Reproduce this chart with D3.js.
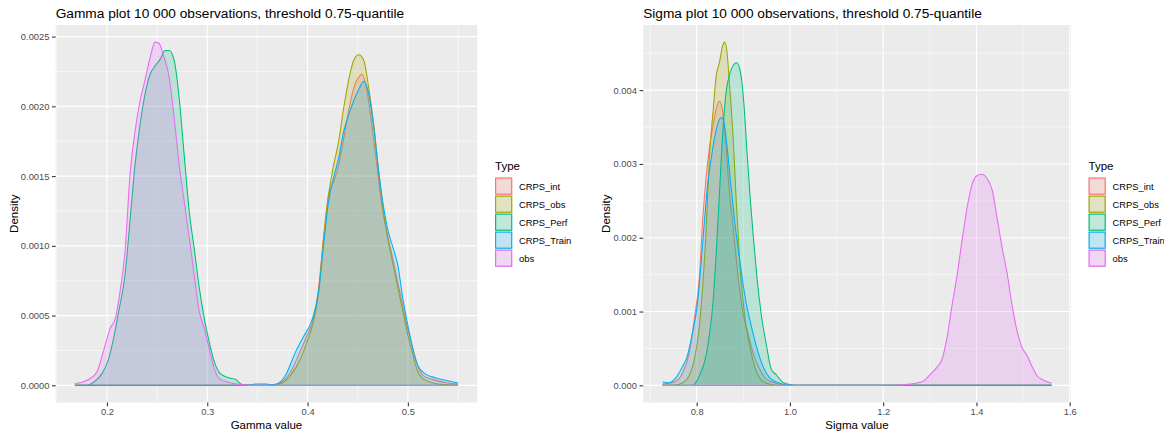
<!DOCTYPE html>
<html>
<head>
<meta charset="utf-8">
<script src="https://cdn.jsdelivr.net/npm/d3@7"></script>
<style>
  html, body { margin: 0; padding: 0; background: #ffffff; }
  svg { display: block; }
  text { font-family: "Liberation Sans", Arial, sans-serif; }
</style>
</head>
<body>
<svg id="chart" width="1164" height="434"></svg>
<script>
// ---------------- DATA ----------------
const types = ["CRPS_int", "CRPS_obs", "CRPS_Perf", "CRPS_Train", "obs"];
const typeColors = ["#F8766D", "#A3A500", "#00BF7D", "#00B0F6", "#E76BF3"];

const gammaTitle = "Gamma plot 10 000 observations, threshold 0.75-quantile";
const sigmaTitle = "Sigma plot 10 000 observations, threshold 0.75-quantile";
const gammaXLabel = "Gamma value";
const sigmaXLabel = "Sigma value";
const yLabel = "Density";
const legendTitle = "Type";

const gammaXTicks = [0.2, 0.3, 0.4, 0.5];
const gammaYTicks = [0, 0.0005, 0.001, 0.0015, 0.002, 0.0025];
const sigmaXTicks = [0.8, 1.0, 1.2, 1.4, 1.6];
const sigmaYTicks = [0, 0.001, 0.002, 0.003, 0.004];

// Gamma densities: [x, density]
const gamma_CRPS_int = [[0.168,0],[0.35,0],[0.362,0.000002],[0.37,0.00001],[0.383,0.000096],[0.393,0.00025],[0.399,0.00035],[0.406,0.00048],[0.411,0.0007],[0.416,0.00106],[0.421,0.00137],[0.426,0.00146],[0.431,0.00158],[0.436,0.00177],[0.441,0.00197],[0.446,0.00213],[0.451,0.00221],[0.454,0.00223],[0.459,0.00212],[0.464,0.00187],[0.469,0.00158],[0.474,0.00129],[0.479,0.0011],[0.484,0.00094],[0.489,0.00077],[0.494,0.0006],[0.499,0.00043],[0.504,0.00029],[0.509,0.00016],[0.515,0.000072],[0.525,0.000041],[0.538,0.000019],[0.55,0.00001]];
const gamma_CRPS_obs = [[0.168,0],[0.36,0],[0.373,0.000012],[0.383,0.000072],[0.393,0.00019],[0.3993,0.00031],[0.406,0.00046],[0.411,0.00067],[0.416,0.00106],[0.421,0.00137],[0.426,0.00158],[0.431,0.00175],[0.436,0.00199],[0.441,0.00219],[0.446,0.00233],[0.451,0.00237],[0.456,0.00233],[0.461,0.00213],[0.466,0.00187],[0.4705,0.00156],[0.4755,0.00125],[0.4805,0.00103],[0.4855,0.00086],[0.49,0.0007],[0.495,0.00053],[0.5,0.00036],[0.505,0.00022],[0.51,0.000096],[0.515,0.000048],[0.522,0.000024],[0.532,0.000007],[0.55,0]];
const gamma_CRPS_Perf = [[0.168,0],[0.18,0],[0.187,0.000024],[0.195,0.000084],[0.2017,0.00019],[0.2067,0.00034],[0.2117,0.00053],[0.218,0.00079],[0.223,0.00118],[0.228,0.00158],[0.233,0.00187],[0.238,0.00209],[0.243,0.00223],[0.248,0.00229],[0.2533,0.00234],[0.258,0.0024],[0.262,0.0024],[0.267,0.00233],[0.272,0.00206],[0.277,0.00165],[0.282,0.00125],[0.287,0.00098],[0.292,0.0007],[0.297,0.00048],[0.302,0.00031],[0.307,0.00017],[0.313,0.000084],[0.322,0.000053],[0.328,0.000043],[0.335,0.000005],[0.345,0],[0.55,0]];
const gamma_CRPS_Train = [[0.168,0],[0.34,0],[0.348,0.00001],[0.358,0.00001],[0.363,0.000005],[0.37,0.000012],[0.378,0.000072],[0.388,0.00024],[0.396,0.00035],[0.404,0.00046],[0.411,0.00067],[0.416,0.00101],[0.421,0.00132],[0.426,0.00149],[0.431,0.00163],[0.436,0.00182],[0.441,0.00194],[0.446,0.00204],[0.451,0.00212],[0.456,0.00218],[0.461,0.00209],[0.466,0.00185],[0.4705,0.00156],[0.4755,0.00129],[0.4805,0.0011],[0.4855,0.00098],[0.49,0.00086],[0.495,0.00062],[0.5,0.00043],[0.505,0.00026],[0.51,0.00014],[0.517,0.000084],[0.528,0.000053],[0.542,0.000029],[0.55,0.000017]];
const gamma_obs = [[0.168,0.000012],[0.18,0.000036],[0.19,0.000096],[0.1967,0.00025],[0.2033,0.00041],[0.2083,0.00048],[0.213,0.00067],[0.218,0.00096],[0.223,0.00151],[0.228,0.00182],[0.233,0.00204],[0.238,0.00219],[0.243,0.00235],[0.248,0.00246],[0.252,0.00245],[0.257,0.00235],[0.262,0.00221],[0.267,0.00192],[0.272,0.00158],[0.277,0.00132],[0.282,0.00106],[0.287,0.00079],[0.292,0.00053],[0.297,0.00041],[0.302,0.00026],[0.307,0.00012],[0.312,0.000048],[0.32,0.000024],[0.333,0.000005],[0.345,0],[0.55,0]];

// Sigma densities: [x, density]
const sigma_CRPS_int = [[0.727,0.000018],[0.752,0.000045],[0.77,0.00017],[0.784,0.00044],[0.795,0.0009],[0.806,0.00148],[0.813,0.00225],[0.82,0.0028],[0.827,0.0032],[0.835,0.00352],[0.842,0.00375],[0.849,0.00385],[0.856,0.0037],[0.863,0.00325],[0.87,0.00262],[0.878,0.00216],[0.885,0.00171],[0.892,0.0013],[0.899,0.00099],[0.91,0.00071],[0.921,0.00044],[0.935,0.00022],[0.95,0.00008],[0.971,0.000027],[1.0,0],[1.5607,0]];
const sigma_CRPS_obs = [[0.727,0],[0.748,0],[0.77,0.000036],[0.784,0.00013],[0.795,0.00035],[0.806,0.00081],[0.813,0.00135],[0.82,0.00207],[0.827,0.00307],[0.835,0.0037],[0.842,0.0042],[0.849,0.00438],[0.856,0.00461],[0.86,0.00465],[0.865,0.00452],[0.87,0.00411],[0.878,0.00338],[0.885,0.00248],[0.892,0.00171],[0.899,0.00117],[0.906,0.00081],[0.914,0.00053],[0.924,0.00026],[0.935,0.0001],[0.95,0.000027],[0.971,0],[1.5607,0]];
const sigma_CRPS_Perf = [[0.727,0],[0.791,0],[0.806,0.00013],[0.82,0.0004],[0.827,0.00067],[0.835,0.00112],[0.842,0.0018],[0.849,0.00262],[0.856,0.00343],[0.863,0.00397],[0.87,0.0042],[0.879,0.00434],[0.886,0.00437],[0.894,0.00424],[0.901,0.00384],[0.908,0.00316],[0.915,0.00252],[0.922,0.00198],[0.929,0.00148],[0.939,0.00094],[0.95,0.00053],[0.96,0.00022],[0.971,0.00014],[0.986,0.000036],[1.007,0.000005],[1.02,0],[1.5607,0]];
const sigma_CRPS_Train = [[0.727,0.000045],[0.741,0.000036],[0.755,0.0001],[0.77,0.00026],[0.78,0.0004],[0.791,0.00071],[0.802,0.00112],[0.809,0.00162],[0.817,0.00225],[0.824,0.00275],[0.831,0.00307],[0.838,0.00334],[0.845,0.00354],[0.853,0.00363],[0.858,0.00357],[0.865,0.00325],[0.872,0.0028],[0.881,0.00225],[0.888,0.00189],[0.896,0.00153],[0.906,0.00112],[0.917,0.00081],[0.928,0.00053],[0.942,0.00026],[0.957,0.0001],[0.978,0.000027],[1.0,0],[1.5607,0]];
const sigma_obs = [[0.727,0],[1.194,0],[1.237,0.000005],[1.266,0.000023],[1.287,0.00006],[1.301,0.00015],[1.316,0.00025],[1.326,0.00035],[1.337,0.00065],[1.348,0.0011],[1.359,0.00151],[1.369,0.00196],[1.38,0.00241],[1.391,0.00273],[1.401,0.00284],[1.412,0.00286],[1.423,0.0028],[1.434,0.00264],[1.444,0.00228],[1.455,0.00187],[1.466,0.00151],[1.476,0.0011],[1.487,0.00074],[1.498,0.00051],[1.509,0.0004],[1.519,0.00026],[1.53,0.00013],[1.544,0.00007],[1.5607,0.000027]];

const gammaSeries = [gamma_CRPS_int, gamma_CRPS_obs, gamma_CRPS_Perf, gamma_CRPS_Train, gamma_obs];
const sigmaSeries = [sigma_CRPS_int, sigma_CRPS_obs, sigma_CRPS_Perf, sigma_CRPS_Train, sigma_obs];

// ---------------- DRAWING ----------------
const svg = d3.select("#chart");
const FONT = '"Liberation Sans", Arial, sans-serif';

function expand(lo, hi) {
  const d = (hi - lo) * 0.05;
  return [lo - d, hi + d];
}

function minorBreaks(ticks, domain) {
  const step = ticks[1] - ticks[0];
  const out = [];
  for (let i = -1; i < ticks.length; i++) {
    const v = ticks[0] + step * (i + 0.5);
    if (v >= domain[0] && v <= domain[1]) out.push(v);
  }
  return out;
}

function drawPanel(cfg) {
  const { series, box, xTicks, yTicks, xFmt, yFmt, title, xLabel, legendX, yLabelX } = cfg;
  const allPts = series.flat();
  const xDom = expand(d3.min(allPts, d => d[0]), d3.max(allPts, d => d[0]));
  const yDom = expand(0, d3.max(allPts, d => d[1]));
  const x = d3.scaleLinear().domain(xDom).range([box.x0, box.x1]);
  const y = d3.scaleLinear().domain(yDom).range([box.y1, box.y0]);

  const g = svg.append("g");
  g.append("rect").attr("x", box.x0).attr("y", box.y0)
    .attr("width", box.x1 - box.x0).attr("height", box.y1 - box.y0)
    .attr("fill", "#EBEBEB");

  minorBreaks(xTicks, xDom).forEach(v => {
    g.append("line").attr("x1", x(v)).attr("x2", x(v)).attr("y1", box.y0).attr("y2", box.y1)
      .attr("stroke", "#ffffff").attr("stroke-width", 0.55);
  });
  minorBreaks(yTicks, yDom).forEach(v => {
    g.append("line").attr("y1", y(v)).attr("y2", y(v)).attr("x1", box.x0).attr("x2", box.x1)
      .attr("stroke", "#ffffff").attr("stroke-width", 0.55);
  });
  xTicks.forEach(v => {
    g.append("line").attr("x1", x(v)).attr("x2", x(v)).attr("y1", box.y0).attr("y2", box.y1)
      .attr("stroke", "#ffffff").attr("stroke-width", 1.1);
  });
  yTicks.forEach(v => {
    g.append("line").attr("y1", y(v)).attr("y2", y(v)).attr("x1", box.x0).attr("x2", box.x1)
      .attr("stroke", "#ffffff").attr("stroke-width", 1.1);
  });

  const area = d3.area().x(d => x(d[0])).y0(y(0)).y1(d => y(d[1])).curve(d3.curveMonotoneX);
  const line = d3.line().x(d => x(d[0])).y(d => y(d[1])).curve(d3.curveMonotoneX);
  const clipId = "clip" + Math.round(box.x0);
  svg.append("clipPath").attr("id", clipId).append("rect")
    .attr("x", box.x0).attr("y", box.y0).attr("width", box.x1 - box.x0).attr("height", box.y1 - box.y0);
  const dg = g.append("g").attr("clip-path", `url(#${clipId})`);
  series.forEach((s, i) => {
    dg.append("path").attr("d", area(s)).attr("fill", typeColors[i]).attr("fill-opacity", 0.2);
    dg.append("path").attr("d", line(s)).attr("fill", "none")
      .attr("stroke", typeColors[i]).attr("stroke-width", 1.07).attr("stroke-linejoin", "round");
  });

  const xAxis = d3.axisBottom(x).tickValues(xTicks).tickFormat(d3.format(xFmt)).tickSize(3.7).tickPadding(2.5);
  const yAxis = d3.axisLeft(y).tickValues(yTicks).tickFormat(d3.format(yFmt)).tickSize(3.7).tickPadding(2.5);
  const ax = g.append("g").attr("transform", `translate(0,${box.y1})`).call(xAxis);
  const ay = g.append("g").attr("transform", `translate(${box.x0},0)`).call(yAxis);
  [ax, ay].forEach(a => {
    a.select(".domain").remove();
    a.selectAll(".tick line").attr("stroke", "#333333").attr("stroke-width", 1.07);
    a.selectAll(".tick text").attr("fill", "#4D4D4D").style("font-size", "9.4px").style("font-family", FONT);
  });

  g.append("text").attr("x", box.x0).attr("y", 17.5).text(title)
    .style("font-size", "13.7px").attr("fill", "#000");
  g.append("text").attr("x", (box.x0 + box.x1) / 2).attr("y", 428.5).attr("text-anchor", "middle")
    .text(xLabel).style("font-size", "11.5px").attr("fill", "#000");
  g.append("text").attr("transform", `translate(${yLabelX},${(box.y0 + box.y1) / 2}) rotate(-90)`)
    .attr("text-anchor", "middle").text(yLabel).style("font-size", "11.5px").attr("fill", "#000");

  const lg = g.append("g").attr("transform", `translate(${legendX},0)`);
  lg.append("text").attr("x", 0).attr("y", 170).text(legendTitle).style("font-size", "11.5px").attr("fill", "#000");
  types.forEach((t, i) => {
    const top = 177.5 + i * 18;
    lg.append("rect").attr("x", 0).attr("y", top).attr("width", 17.3).attr("height", 17.3).attr("fill", "#F2F2F2");
    lg.append("rect").attr("x", 0.6).attr("y", top + 0.6).attr("width", 16.1).attr("height", 16.1)
      .attr("fill", typeColors[i]).attr("fill-opacity", 0.2)
      .attr("stroke", typeColors[i]).attr("stroke-width", 1.2);
    lg.append("text").attr("x", 24).attr("y", top + 8.65 + 3.4).text(t)
      .style("font-size", "9.4px").attr("fill", "#000");
  });
}

drawPanel({
  series: gammaSeries,
  box: { x0: 55.7, x1: 477.2, y0: 25, y1: 402.5 },
  xTicks: gammaXTicks, yTicks: gammaYTicks, xFmt: ".1f", yFmt: ".4f",
  title: gammaTitle, xLabel: gammaXLabel, legendX: 495, yLabelX: 17.5
});
drawPanel({
  series: sigmaSeries,
  box: { x0: 643.2, x1: 1070.8, y0: 25, y1: 402.5 },
  xTicks: sigmaXTicks, yTicks: sigmaYTicks, xFmt: ".1f", yFmt: ".3f",
  title: sigmaTitle, xLabel: sigmaXLabel, legendX: 1088.5, yLabelX: 609.5
});
</script>
</body>
</html>
